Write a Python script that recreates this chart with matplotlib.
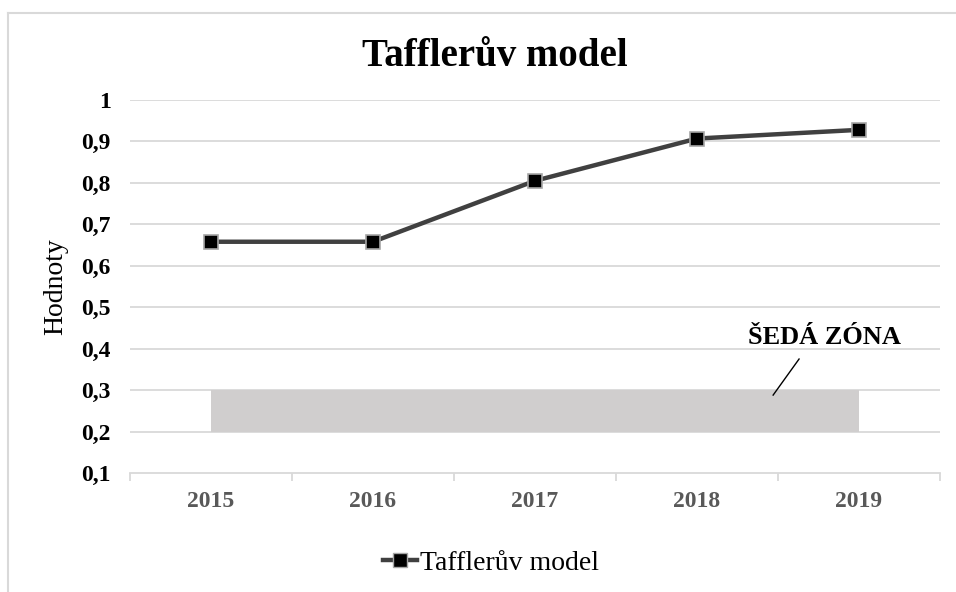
import matplotlib
matplotlib.use("Agg")
import matplotlib.pyplot as plt
from matplotlib.patches import Rectangle
from matplotlib.lines import Line2D
import numpy as np

plt.rcParams['font.family'] = ['Liberation Serif', 'DejaVu Serif']

years = ['2015', '2016', '2017', '2018', '2019']
values = [0.658, 0.658, 0.805, 0.907, 0.928]
zone_low = 0.2
zone_high = 0.3
yticks = [0.1, 0.2, 0.3, 0.4, 0.5, 0.6, 0.7, 0.8, 0.9, 1.0]
ytick_labels = ['0,1', '0,2', '0,3', '0,4', '0,5', '0,6', '0,7', '0,8', '0,9', '1']
series_name = 'Tafflerův model'
title = 'Tafflerův model'
ylabel = 'Hodnoty'
zone_label = 'ŠEDÁ ZÓNA'

fig = plt.figure(figsize=(9.56, 5.92), dpi=100)
ax = fig.add_axes([130/956, 1-473/592, 810/956, 373/592])

x = np.arange(len(years))

# gray zone
ax.add_patch(Rectangle((x[0], zone_low), x[-1]-x[0], zone_high-zone_low,
                       facecolor='#d0cece', edgecolor='none', zorder=1))

ax.plot(x, values, color='#404040', lw=3.2, solid_joinstyle='round', zorder=3,
        marker='s', markersize=9.5, markerfacecolor='black',
        markeredgecolor='#a6a6a6', markeredgewidth=1.2)

ax.set_xlim(-0.5, len(years)-0.5)
ax.set_ylim(0.1, 1.0)
ax.set_yticks(yticks)
ax.set_yticklabels(ytick_labels, fontsize=17, fontweight='bold', color='black')
ax.set_xticks(x)
ax.set_xticklabels(years, fontsize=17, fontweight='bold', color='#595959')
ax.tick_params(axis='x', length=0, pad=13)
ax.tick_params(axis='y', length=0, pad=14)
for v in yticks[1:]:
    ax.axhline(v, color='#d9d9d9', lw=1.3, zorder=0)
for s in ['top', 'right', 'left']:
    ax.spines[s].set_visible(False)
ax.spines['bottom'].set_color('#d9d9d9')
ax.spines['bottom'].set_linewidth(1.3)
# ticks at category boundaries
ax.set_xticks(np.arange(-0.5, len(years), 1.0), minor=True)
ax.tick_params(axis='x', which='minor', length=6, color='#d9d9d9', width=1.3, direction='out')

ax.set_ylabel(ylabel, fontsize=20)
ax.yaxis.set_label_coords(-(130-68)/810, (473-287)/373)

ax.text(3.79, 0.428, zone_label, fontsize=19, fontweight='bold', ha='center', va='center')
ax.plot([3.63, 3.47], [0.375, 0.288], color='black', lw=1.0, zorder=5)

fig.text(495/956, 1-57/592, title, fontsize=28, fontweight='bold', ha='center', va='center')

handle = Line2D([], [], color='#404040', lw=3.2, marker='s', markersize=9.5,
                markerfacecolor='black', markeredgecolor='#a6a6a6')
fig.legend([handle], [series_name], loc='center', bbox_to_anchor=(491/956, 1-563/592),
           frameon=False, fontsize=20, handlelength=1.25, handletextpad=0.1)

# chart border
fig.add_artist(Line2D([8/956, 8/956], [0, 1-13/592], color='#d9d9d9', lw=1.5,
                      transform=fig.transFigure))
fig.add_artist(Line2D([8/956, 1], [1-13/592, 1-13/592], color='#d9d9d9', lw=1.5,
                      transform=fig.transFigure))

fig.savefig('out.png', dpi=100)
